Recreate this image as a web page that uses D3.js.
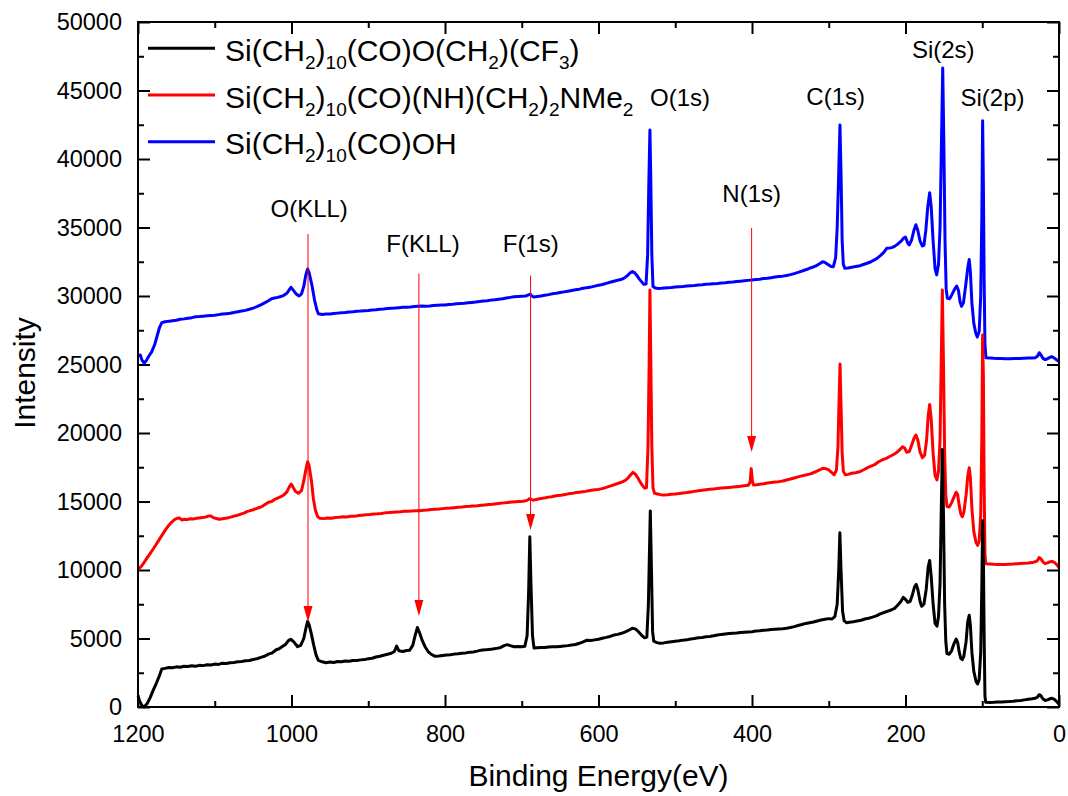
<!DOCTYPE html>
<html>
<meta charset="utf-8">
<style>
    body { margin: 0; background: #fff; }
    svg { display: block; background: #fff; }
    text { font-family: 'Liberation Sans', Arial, sans-serif; fill: #000; }
</style>
<body>
<svg width="1068" height="796"></svg>

<script src="https://d3js.org/d3.v7.min.js"></script>
<script>
    // [binding energy (eV), intensity]
    let blackData = [
        [1200, 800], [1198, 450], [1195, 120], [1192, 0], [1188, 250], [1184, 700], [1180, 1250], [1176, 1750], [1172, 2300], [1169, 2780],
        [1165, 2820], [1160, 2880], [1155, 2860], [1150, 2930], [1145, 2900], [1140, 2970], [1135, 2950], [1130, 3010], [1125, 2980], [1120, 3040],
        [1115, 3020], [1110, 3080], [1105, 3060], [1100, 3130], [1095, 3110], [1090, 3190], [1085, 3170], [1080, 3230], [1075, 3250], [1070, 3300],
        [1065, 3320], [1060, 3380], [1055, 3400], [1050, 3470], [1045, 3520], [1040, 3620], [1035, 3700], [1030, 3860], [1025, 3950], [1020, 4180],
        [1016, 4250], [1012, 4420], [1008, 4550], [1004, 4850], [1001, 4950], [997, 4750], [992, 4400], [988, 4500], [984, 5000], [981, 5800],
        [979, 6250], [977, 6000], [974, 5300], [971, 4500], [968, 3800], [965, 3400], [960, 3300], [955, 3230], [950, 3280], [945, 3250],
        [940, 3320], [935, 3300], [930, 3360], [925, 3340], [920, 3400], [915, 3390], [910, 3440], [905, 3460], [900, 3520], [895, 3560],
        [890, 3650], [885, 3700], [880, 3780], [875, 3850], [870, 3920], [866, 4050], [863, 4450], [860, 4100], [855, 4050], [850, 4120],
        [846, 4150], [842, 4500], [839, 5200], [836, 5800], [833, 5400], [830, 4900], [826, 4400], [822, 4050], [818, 3850], [813, 3700],
        [808, 3720], [803, 3760], [798, 3800], [793, 3820], [788, 3860], [783, 3880], [778, 3930], [773, 3950], [768, 4000], [763, 4020],
        [758, 4080], [753, 4150], [748, 4170], [743, 4200], [738, 4230], [733, 4280], [728, 4330], [723, 4480], [719, 4550], [715, 4480],
        [710, 4400], [705, 4420], [700, 4400], [696, 4430], [693, 5200], [691, 8500], [689.5, 12430], [688, 9000], [686, 5200], [684, 4300],
        [680, 4320], [675, 4350], [670, 4340], [665, 4380], [660, 4400], [655, 4390], [650, 4420], [645, 4450], [640, 4480], [635, 4520],
        [630, 4560], [625, 4650], [620, 4750], [615, 4880], [610, 4850], [605, 4900], [600, 4950], [595, 5020], [590, 5080], [585, 5150],
        [580, 5250], [575, 5300], [570, 5380], [565, 5480], [560, 5620], [556, 5750], [552, 5700], [548, 5500], [544, 5250], [540, 5050],
        [537, 5100], [535, 7500], [533, 13000], [532.5, 14300], [531, 10000], [529.5, 5500], [528, 4800], [524, 4700], [520, 4650], [515, 4680],
        [510, 4720], [505, 4760], [500, 4800], [495, 4830], [490, 4880], [485, 4900], [480, 4960], [475, 5000], [470, 5050], [465, 5080],
        [460, 5120], [455, 5150], [450, 5200], [445, 5260], [440, 5300], [435, 5330], [430, 5360], [425, 5380], [420, 5400], [415, 5430],
        [410, 5460], [405, 5480], [400, 5500], [395, 5540], [390, 5560], [385, 5600], [380, 5620], [375, 5650], [370, 5680], [365, 5700],
        [360, 5720], [355, 5750], [350, 5800], [345, 5870], [340, 5950], [335, 6020], [330, 6100], [325, 6150], [320, 6200], [315, 6280],
        [310, 6350], [305, 6400], [300, 6450], [296, 6420], [292, 6600], [289, 7500], [287, 10000], [285.5, 12720], [284, 10000], [282, 7000],
        [280, 6300], [277, 6150], [273, 6180], [268, 6220], [263, 6280], [258, 6330], [253, 6420], [248, 6480], [243, 6560], [238, 6650],
        [233, 6800], [228, 6900], [223, 7000], [218, 7100], [214, 7200], [210, 7450], [206, 7700], [203, 8000], [200, 7850], [197, 7650],
        [194, 7700], [191, 8200], [188, 8800], [186, 8950], [184, 8600], [181, 7700], [179, 7350], [176, 7500], [173, 8600], [170.5, 10200],
        [168.5, 10700], [166.5, 9500], [164, 7500], [161.5, 6100], [159, 5900], [157, 6600], [155, 9000], [153.5, 14000], [152, 18800], [150.5, 14000],
        [149, 7500], [147.5, 4800], [146, 3900], [143, 3850], [140, 4100], [137, 4600], [134, 4950], [132, 4700], [130, 4000], [128, 3550],
        [126, 3450], [124, 3700], [121, 4800], [119, 6200], [117, 6700], [115.5, 6000], [113.5, 4000], [111, 2600], [108, 1850], [106, 1680],
        [104, 2000], [102, 4000], [100.5, 9000], [99.5, 13600], [98.5, 11000], [97.5, 5000], [96.5, 800], [95.5, 350], [90, 330], [85, 340],
        [80, 360], [75, 370], [70, 390], [65, 400], [60, 420], [55, 450], [50, 480], [45, 520], [40, 560], [35, 600],
        [31, 640], [28, 720], [26, 900], [24, 850], [21, 600], [18, 480], [15, 520], [12, 600], [9, 640], [6, 560], [3, 400], [0, 200]
    ];

    let redData = [
        [1200, 10000], [1196, 10250], [1192, 10550], [1188, 10900], [1184, 11220], [1180, 11550], [1176, 11900], [1172, 12250], [1168, 12600], [1164, 12950],
        [1160, 13250], [1156, 13500], [1152, 13700], [1149, 13770], [1146, 13800], [1143, 13650], [1140, 13700], [1136, 13680], [1132, 13740], [1128, 13720],
        [1124, 13770], [1120, 13800], [1116, 13830], [1112, 13860], [1108, 13950], [1105, 13950], [1102, 13820], [1098, 13760], [1094, 13700], [1090, 13740],
        [1086, 13780], [1082, 13820], [1078, 13880], [1074, 13950], [1070, 14000], [1066, 14080], [1062, 14150], [1058, 14260], [1054, 14330], [1050, 14400],
        [1046, 14480], [1042, 14560], [1038, 14650], [1034, 14800], [1030, 14950], [1026, 15000], [1022, 15150], [1018, 15250], [1014, 15350], [1010, 15480],
        [1006, 15700], [1003, 16050], [1000.5, 16280], [998, 16050], [995, 15750], [991, 15600], [987, 15800], [984, 16500], [981, 17400], [979, 17900],
        [977, 17600], [974, 16500], [971.5, 15200], [969, 14400], [966, 13900], [963, 13770], [958, 13750], [953, 13800], [948, 13780], [943, 13830],
        [938, 13850], [933, 13880], [928, 13870], [923, 13920], [918, 13930], [913, 13970], [908, 14000], [903, 14030], [898, 14050], [893, 14080],
        [888, 14100], [883, 14130], [878, 14170], [873, 14190], [868, 14220], [863, 14240], [858, 14250], [853, 14280], [848, 14290], [843, 14310],
        [838, 14320], [833, 14330], [828, 14360], [823, 14380], [818, 14410], [813, 14430], [808, 14450], [803, 14480], [798, 14500], [793, 14520],
        [788, 14550], [783, 14580], [778, 14600], [773, 14630], [768, 14650], [763, 14680], [758, 14690], [753, 14720], [748, 14750], [743, 14780],
        [738, 14800], [733, 14840], [728, 14870], [723, 14900], [718, 14930], [713, 14960], [708, 14980], [703, 15000], [698, 15020], [693, 15080],
        [690, 15200], [688, 15160], [685, 15100], [681, 15150], [677, 15200], [673, 15230], [669, 15270], [665, 15320], [661, 15350], [657, 15400],
        [653, 15430], [649, 15460], [645, 15500], [641, 15540], [637, 15580], [633, 15610], [629, 15650], [625, 15680], [621, 15710], [617, 15740],
        [613, 15780], [609, 15820], [605, 15850], [601, 15880], [597, 15920], [593, 15970], [589, 16050], [585, 16120], [581, 16200], [577, 16280],
        [573, 16350], [569, 16430], [565, 16550], [561, 16750], [558, 16950], [555, 17130], [552, 17000], [549, 16750], [546, 16450], [543, 16200],
        [540, 15980], [537.5, 16000], [535.5, 19000], [534, 25000], [533, 30440], [532, 26000], [530.5, 19000], [529, 16000], [527, 15600], [523, 15550],
        [519, 15500], [515, 15480], [510, 15500], [505, 15530], [500, 15550], [495, 15580], [490, 15620], [485, 15650], [480, 15700], [475, 15740],
        [470, 15780], [465, 15820], [460, 15860], [455, 15890], [450, 15920], [445, 15950], [440, 15980], [435, 16010], [430, 16030], [425, 16050],
        [420, 16080], [415, 16110], [410, 16150], [405, 16180], [402.5, 16400], [401, 17400], [399.5, 16500], [398, 16200], [394, 16220], [390, 16260],
        [385, 16300], [380, 16350], [375, 16390], [370, 16420], [365, 16450], [360, 16500], [355, 16570], [350, 16640], [345, 16720], [340, 16800],
        [335, 16870], [330, 16930], [325, 17000], [320, 17100], [316, 17200], [312, 17300], [308, 17420], [304, 17400], [300, 17300], [296, 17100],
        [293, 16950], [290, 17300], [288, 19000], [286.5, 22500], [285.3, 25040], [284, 22000], [282.5, 18500], [281, 17200], [278.5, 16950], [275, 16980],
        [270, 17060], [265, 17100], [260, 17170], [255, 17300], [250, 17450], [245, 17580], [240, 17700], [235, 17900], [230, 18050], [225, 18150],
        [220, 18300], [215, 18450], [211, 18600], [207, 18800], [204, 19000], [201, 18900], [198.5, 18600], [195, 18650], [192, 19100], [189, 19600],
        [186.5, 19850], [184, 19500], [181, 18600], [178, 18200], [175, 18400], [172.5, 19500], [170.5, 21200], [168.5, 22080], [166.5, 21000], [164, 18500],
        [161.5, 16900], [159, 16570], [157, 17200], [155, 19500], [153.5, 25000], [152, 30430], [150.5, 25000], [149, 18500], [147.5, 15500], [146, 14640],
        [143, 14600], [140, 14900], [137, 15300], [134, 15680], [132, 15500], [130, 14700], [128, 14100], [126, 13890], [124, 14200], [121, 15500],
        [119, 16800], [117, 17460], [115.5, 16800], [113.5, 14500], [111, 12800], [108, 12000], [106, 11800], [104, 12100], [102, 14000], [100.5, 20000],
        [99.5, 27150], [98.5, 24000], [97.5, 16000], [96.5, 11200], [95.5, 10460], [90, 10440], [85, 10420], [80, 10410], [75, 10400], [70, 10410],
        [65, 10420], [60, 10430], [55, 10450], [50, 10470], [45, 10490], [40, 10510], [35, 10540], [31, 10600], [28, 10680], [26, 10900],
        [24, 10850], [21, 10600], [18, 10460], [15, 10520], [12, 10600], [9, 10620], [6, 10550], [3, 10400], [0, 10170]
    ];

    let blueData = [
        [1200, 25650], [1197, 25700], [1195, 25350], [1192, 25090], [1189, 25300], [1186, 25600], [1182, 25940], [1178, 26500], [1175, 27100], [1172, 27700],
        [1169, 28060], [1165, 28120], [1160, 28150], [1155, 28200], [1150, 28230], [1145, 28300], [1140, 28330], [1135, 28380], [1130, 28420], [1125, 28480],
        [1120, 28500], [1115, 28530], [1110, 28560], [1105, 28580], [1100, 28600], [1095, 28640], [1090, 28680], [1085, 28710], [1080, 28740], [1075, 28800],
        [1070, 28850], [1065, 28900], [1060, 28950], [1055, 29030], [1050, 29120], [1045, 29220], [1040, 29350], [1035, 29500], [1030, 29650], [1026, 29800],
        [1022, 29850], [1018, 29900], [1014, 29960], [1010, 30050], [1006, 30200], [1003, 30450], [1000.7, 30640], [998, 30450], [994, 30150], [990, 30000],
        [987, 30150], [984, 30700], [981.5, 31500], [979, 31970], [977, 31700], [975, 31200], [973, 30680], [970, 29700], [967, 29000], [965, 28700],
        [960, 28650], [955, 28680], [950, 28690], [945, 28720], [940, 28750], [935, 28780], [930, 28800], [925, 28830], [920, 28850], [915, 28880],
        [910, 28900], [905, 28930], [900, 28950], [895, 28980], [890, 29000], [885, 29030], [880, 29050], [875, 29080], [870, 29100], [865, 29120],
        [860, 29150], [855, 29170], [850, 29180], [845, 29200], [840, 29230], [835, 29260], [830, 29270], [825, 29260], [820, 29270], [815, 29300],
        [810, 29320], [805, 29340], [800, 29350], [795, 29380], [790, 29400], [785, 29430], [780, 29450], [775, 29470], [770, 29500], [765, 29530],
        [760, 29560], [755, 29600], [750, 29630], [745, 29660], [740, 29700], [735, 29730], [730, 29770], [725, 29800], [720, 29850], [715, 29900],
        [710, 29950], [705, 29970], [700, 29990], [695, 30000], [691, 30080], [689, 30150], [687, 30000], [684, 29920], [680, 29960], [675, 30000],
        [670, 30050], [665, 30100], [660, 30160], [655, 30200], [650, 30250], [645, 30300], [640, 30350], [635, 30400], [630, 30450], [625, 30500],
        [620, 30560], [615, 30610], [610, 30650], [605, 30720], [600, 30790], [595, 30840], [590, 30920], [585, 31000], [580, 31080], [575, 31150],
        [570, 31220], [566, 31320], [562, 31500], [559, 31680], [556, 31780], [553, 31700], [550, 31500], [547, 31250], [544, 31050], [541, 30850],
        [538, 30880], [536, 33000], [534.5, 38000], [533, 42120], [532, 39000], [530.5, 33000], [529, 30700], [526, 30580], [522, 30550], [518, 30560],
        [514, 30580], [510, 30600], [505, 30620], [500, 30650], [495, 30680], [490, 30700], [485, 30730], [480, 30750], [475, 30770], [470, 30800],
        [465, 30820], [460, 30850], [455, 30870], [450, 30900], [445, 30920], [440, 30950], [435, 30970], [430, 31000], [425, 31020], [420, 31050],
        [415, 31080], [410, 31110], [405, 31140], [400, 31170], [395, 31200], [390, 31230], [385, 31270], [380, 31300], [375, 31340], [370, 31380],
        [365, 31420], [360, 31450], [355, 31500], [350, 31560], [345, 31630], [340, 31720], [336, 31800], [332, 31880], [328, 31950], [324, 32050],
        [320, 32120], [316, 32220], [312, 32350], [308, 32500], [305, 32450], [301, 32300], [297, 32150], [294, 32140], [291, 32800], [289, 35000],
        [287, 39000], [285.4, 42490], [284, 39000], [282.5, 34000], [281, 32300], [279, 32020], [275, 32050], [270, 32100], [265, 32150], [259, 32215],
        [255, 32300], [250, 32390], [245, 32500], [240, 32650], [236, 32800], [232, 32980], [228, 33200], [224.5, 33480], [221, 33500], [218, 33530],
        [215, 33600], [211, 33750], [208, 33900], [205, 34050], [202, 34250], [200, 34300], [197, 33850], [195, 33730], [192, 34100], [189, 34800],
        [186.5, 35200], [184, 34800], [181, 34000], [178, 33650], [176, 33700], [173.5, 34800], [171, 36500], [168.5, 37540], [166.5, 36500], [164, 34000],
        [161.5, 32000], [159.4, 31540], [157, 32300], [155, 35000], [153.5, 40000], [151.5, 46650], [150, 41000], [148.5, 34000], [147, 30500], [145.5, 29830],
        [142.5, 29800], [139.5, 30100], [136, 30500], [133.3, 30730], [131, 30400], [129, 29600], [127, 29240], [124.5, 29500], [121.5, 30800], [119, 32000],
        [117, 32660], [115.5, 31800], [113.5, 29500], [111, 28000], [108.5, 27300], [106.5, 27000], [104, 27400], [102, 30000], [100.5, 36000], [99.5, 42790],
        [98.5, 38000], [97.5, 31000], [96.5, 26500], [95.2, 25500], [90, 25480], [85, 25450], [80, 25440], [75, 25430], [70, 25420], [64, 25420],
        [58, 25430], [52, 25440], [46, 25460], [40, 25470], [35, 25480], [31, 25500], [28, 25600], [25.7, 25860], [23.5, 25700], [21, 25450],
        [18, 25360], [15, 25420], [12, 25520], [9.6, 25570], [7, 25500], [4, 25380], [0, 25210]
    ];

    // legend entries, _{..} marks a subscript
    let seriesNames = [
        "Si(CH_{2})_{10}(CO)O(CH_{2})(CF_{3})",
        "Si(CH_{2})_{10}(CO)(NH)(CH_{2})_{2}NMe_{2}",
        "Si(CH_{2})_{10}(CO)OH"
    ];
    let seriesColors = ["#000000", "#ff0000", "#0000ff"];

    // peak labels: text, energy (eV), intensity at baseline
    let peakNames  = ["O(KLL)", "F(KLL)", "F(1s)", "N(1s)", "O(1s)", "C(1s)", "Si(2s)", "Si(2p)"];
    let peakEnergy = [977, 828.7, 688.3, 400.4, 493.8, 291, 150.8, 86.6];
    let peakLabelI = [35770, 33215, 33215, 36865, 43873, 43946, 47377, 43873];

    // red arrows: energy, start intensity, tip intensity
    let arrowEnergy = [978.5, 834, 688.5, 400.5];
    let arrowFrom   = [34530, 31640, 31490, 34970];
    let arrowTo     = [6200, 6640, 12920, 18620];

    let xTicks = [1200, 1000, 800, 600, 400, 200, 0];
    let xMinor = [1100, 900, 700, 500, 300, 100];
    let yTicks = [0, 5000, 10000, 15000, 20000, 25000, 30000, 35000, 40000, 45000, 50000];
    let yMinor = [2500, 7500, 12500, 17500, 22500, 27500, 32500, 37500, 42500, 47500];

    let margin = {top: 22, right: 9, bottom: 89, left: 138},
        totalWidth = 1068, totalHeight = 796,
        width = totalWidth - margin.left - margin.right,
        height = totalHeight - margin.top - margin.bottom;

    let svg = d3.select("svg");
    let g = svg.append("g").attr("transform", "translate(" + margin.left + "," + margin.top + ")");

    let xScale = d3.scaleLinear().domain([1200, 0]).range([0, width]);
    let yScale = d3.scaleLinear().domain([0, 50000]).range([height, 0]);

    function styleAxis(sel) {
        sel.select(".domain").remove();
        sel.selectAll(".tick line").attr("stroke", "#000").attr("stroke-width", 2);
        sel.selectAll(".tick text").style("font-size", "23.5px").attr("fill", "#000");
    }

    // major + minor ticks on all four sides, pointing inward
    g.append("g").attr("transform", "translate(0," + height + ")")
        .call(d3.axisBottom(xScale).tickValues(xTicks).tickSize(-12).tickPadding(18).tickFormat(d3.format("d")))
        .call(styleAxis);
    g.append("g").attr("transform", "translate(0," + height + ")")
        .call(d3.axisBottom(xScale).tickValues(xMinor).tickSize(-6).tickFormat(""))
        .call(styleAxis);
    g.append("g")
        .call(d3.axisTop(xScale).tickValues(xTicks).tickSize(-12).tickFormat(""))
        .call(styleAxis);
    g.append("g")
        .call(d3.axisTop(xScale).tickValues(xMinor).tickSize(-6).tickFormat(""))
        .call(styleAxis);
    g.append("g")
        .call(d3.axisLeft(yScale).tickValues(yTicks).tickSize(-12).tickPadding(16).tickFormat(d3.format("d")))
        .call(styleAxis);
    g.append("g")
        .call(d3.axisLeft(yScale).tickValues(yMinor).tickSize(-6).tickFormat(""))
        .call(styleAxis);
    g.append("g").attr("transform", "translate(" + width + ",0)")
        .call(d3.axisRight(yScale).tickValues(yTicks).tickSize(-12).tickFormat(""))
        .call(styleAxis);
    g.append("g").attr("transform", "translate(" + width + ",0)")
        .call(d3.axisRight(yScale).tickValues(yMinor).tickSize(-6).tickFormat(""))
        .call(styleAxis);

    let lineGenerator = d3.line()
        .x(d => xScale(d[0]))
        .y(d => yScale(d[1]));

    // blue first, black last (black sits on top in the Si region)
    let allSeries = [blackData, redData, blueData];
    g.append("g").selectAll("path")
        .data([2, 1, 0])
        .join("path")
        .attr("d", i => lineGenerator(allSeries[i]))
        .attr("fill", "none")
        .attr("stroke", i => seriesColors[i])
        .attr("stroke-width", 3)
        .attr("stroke-linejoin", "round");

    // frame
    g.append("rect")
        .attr("width", width).attr("height", height)
        .attr("fill", "none").attr("stroke", "#000").attr("stroke-width", 2);

    // arrows
    let arrows = g.append("g");
    arrowEnergy.forEach(function (e, i) {
        let ax = xScale(e), y0 = yScale(arrowFrom[i]), y1 = yScale(arrowTo[i]);
        arrows.append("line")
            .attr("x1", ax).attr("x2", ax)
            .attr("y1", y0).attr("y2", y1 - 12)
            .attr("stroke", "#ff0000").attr("stroke-width", 1);
        arrows.append("path")
            .attr("d", "M" + (ax - 4.5) + "," + (y1 - 16) + "L" + (ax + 4.5) + "," + (y1 - 16) + "L" + ax + "," + y1 + "Z")
            .attr("fill", "#ff0000");
    });

    // peak labels
    g.append("g").selectAll("text")
        .data(peakNames)
        .join("text")
        .attr("x", (d, i) => xScale(peakEnergy[i]))
        .attr("y", (d, i) => yScale(peakLabelI[i]))
        .attr("text-anchor", "middle")
        .style("font-size", "24px")
        .text(d => d);

    // legend
    let legend = g.append("g");
    seriesNames.forEach(function (name, i) {
        let ly = 26.3 + i * 46.7;
        legend.append("line")
            .attr("x1", 10).attr("x2", 77)
            .attr("y1", ly).attr("y2", ly)
            .attr("stroke", seriesColors[i]).attr("stroke-width", 3);
        let t = legend.append("text")
            .attr("x", 87).attr("y", ly + 12.5)
            .style("font-size", "30px");
        let parts = name.split(/_\{([^}]*)\}/);
        let offset = 0;
        parts.forEach(function (p, j) {
            if (p === "") return;
            let isSub = j % 2 === 1;
            let target = isSub ? 8 : 0;
            t.append("tspan")
                .attr("dy", target - offset)
                .style("font-size", isSub ? "19px" : "30px")
                .text(p);
            offset = target;
        });
    });

    // axis titles
    svg.append("text")
        .attr("x", margin.left + width / 2)
        .attr("y", 786)
        .attr("text-anchor", "middle")
        .style("font-size", "30px")
        .text("Binding Energy(eV)");

    svg.append("text")
        .attr("transform", "translate(35," + 373 + ") rotate(-90)")
        .attr("text-anchor", "middle")
        .style("font-size", "30px")
        .text("Intensity");
</script>
</body>
</html>
